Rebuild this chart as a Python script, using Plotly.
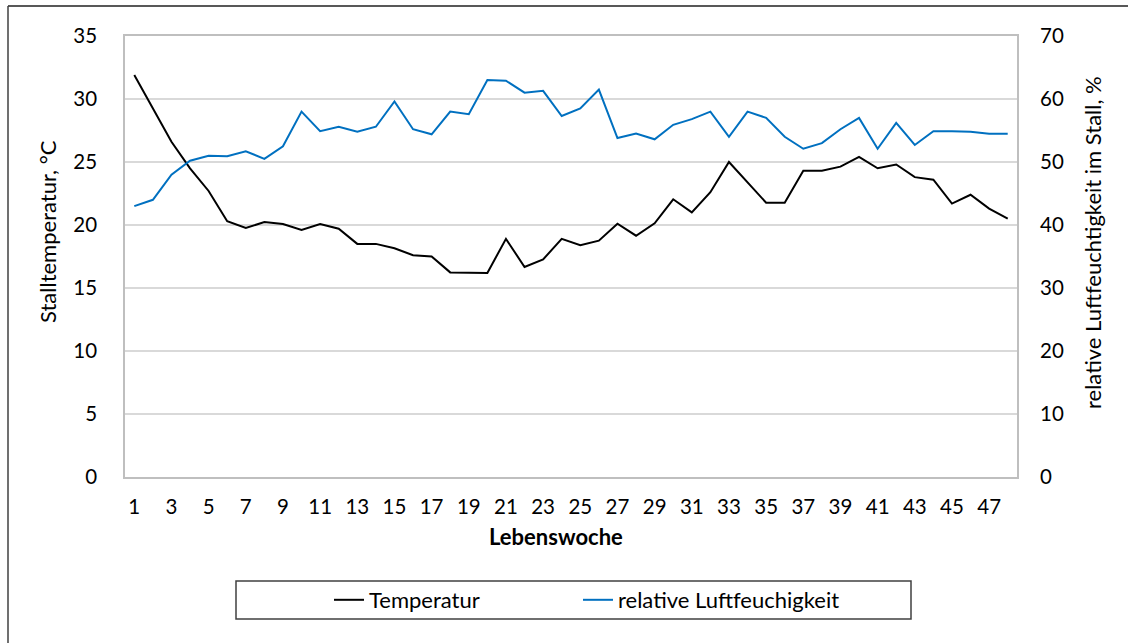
import plotly.graph_objects as go

# Lebenswoche 1..48
weeks = list(range(1, 49))

# Stalltemperatur in °C
temperatur = [31.9, 29.3, 26.6, 24.5, 22.7, 20.3, 19.76, 20.24, 20.08, 19.6,
              20.08, 19.7, 18.5, 18.5, 18.15, 17.6, 17.5, 16.24, 16.24, 16.2,
              18.9, 16.67, 17.27, 18.9, 18.4, 18.76, 20.1, 19.15, 20.13, 22.04,
              21.0, 22.6, 25.0, 23.4, 21.77, 21.77, 24.3, 24.3, 24.63, 25.4,
              24.5, 24.8, 23.8, 23.6, 21.7, 22.4, 21.3, 20.5]

# relative Luftfeuchtigkeit in %
feuchte = [43.0, 44.0, 48.0, 50.2, 51.0, 50.9, 51.7, 50.5, 52.5, 58.0,
           54.9, 55.6, 54.8, 55.6, 59.6, 55.2, 54.4, 58.0, 57.6, 63.0,
           62.9, 61.0, 61.3, 57.3, 58.5, 61.5, 53.8, 54.5, 53.6, 55.9,
           56.8, 58.0, 54.0, 58.0, 57.0, 54.0, 52.1, 53.0, 55.2, 57.0,
           52.1, 56.2, 52.7, 54.9, 54.9, 54.8, 54.5, 54.5]

x_ticks = list(range(1, 48, 2))
y_left_ticks = [0, 5, 10, 15, 20, 25, 30, 35]
y_right_ticks = [0, 10, 20, 30, 40, 50, 60, 70]

FONT = "Lato"
W, H = 1128, 643
L, R, T, B = 125, 1017, 36, 477

fig = go.Figure()
fig.add_trace(go.Scatter(x=weeks, y=temperatur, name="Temperatur", mode="lines",
                         line=dict(color="#000000", width=2), yaxis="y",
                         legend="legend"))
fig.add_trace(go.Scatter(x=weeks, y=feuchte, name="relative Luftfeuchigkeit", mode="lines",
                         line=dict(color="#0070C0", width=2), yaxis="y2",
                         legend="legend2"))

def px_x(p):
    return (p - L) / (R - L)

def px_y(p):
    return (B - p) / (B - T)

legend_style = dict(orientation="h", xanchor="left", yanchor="middle",
                    bgcolor="rgba(0,0,0,0)", borderwidth=0, font=dict(size=22))

title_font = dict(family=FONT, size=22, color="#000000")

fig.update_layout(
    width=W, height=H,
    margin=dict(l=L, r=W - R, t=T, b=H - B),
    paper_bgcolor="white", plot_bgcolor="white",
    font=dict(family=FONT, size=21, color="#000000"),
    showlegend=True,
    xaxis=dict(
        range=[0.5, 48.5], tickmode="array", tickvals=x_ticks,
        ticktext=[str(v) for v in x_ticks],
        showgrid=False, zeroline=False,
        showline=True, linecolor="#BFBFBF", linewidth=1.5, mirror=True,
        ticks="", ticklabelstandoff=11, tickfont=dict(size=20.5),
    ),
    yaxis=dict(
        range=[0, 35], tickmode="array", tickvals=y_left_ticks,
        showgrid=True, gridcolor="#D9D9D9", gridwidth=1.5, zeroline=False,
        showline=True, linecolor="#BFBFBF", linewidth=1.5, mirror=True,
        ticks="", ticklabelstandoff=22, tickfont=dict(size=20.5),
    ),
    yaxis2=dict(
        range=[0, 70], tickmode="array", tickvals=y_right_ticks,
        overlaying="y", side="right", showgrid=False, zeroline=False,
        showline=False, ticks="", ticklabelstandoff=22, tickfont=dict(size=20.5),
    ),
    legend=dict(x=px_x(329), y=px_y(600), **legend_style),
    legend2=dict(x=px_x(578), y=px_y(600), **legend_style),
    annotations=[
        dict(text="<b>Lebenswoche</b>", xref="paper", yref="paper",
             x=px_x(556), y=px_y(536), xanchor="center", yanchor="middle",
             showarrow=False, font=title_font),
        dict(text="Stalltemperatur, °C", xref="paper", yref="paper",
             x=px_x(47), y=px_y(232), xanchor="center", yanchor="middle",
             textangle=-90, showarrow=False, font=title_font),
        dict(text="relative Luftfeuchtigkeit im Stall, %", xref="paper", yref="paper",
             x=px_x(1093), y=px_y(243), xanchor="center", yanchor="middle",
             textangle=-90, showarrow=False, font=title_font),
    ],
    shapes=[
        # legend frame
        dict(type="rect", xref="paper", yref="paper",
             x0=px_x(236), x1=px_x(911), y0=px_y(581), y1=px_y(619),
             line=dict(color="#404040", width=1.5), fillcolor="rgba(0,0,0,0)"),
        # outer chart frame (top and left edges)
        dict(type="line", xref="paper", yref="paper",
             x0=px_x(8), x1=px_x(W), y0=px_y(6), y1=px_y(6),
             line=dict(color="#202020", width=1.5)),
        dict(type="line", xref="paper", yref="paper",
             x0=px_x(8), x1=px_x(8), y0=px_y(6), y1=px_y(H),
             line=dict(color="#404040", width=1.5)),
    ],
)

fig.write_html("out.html")
